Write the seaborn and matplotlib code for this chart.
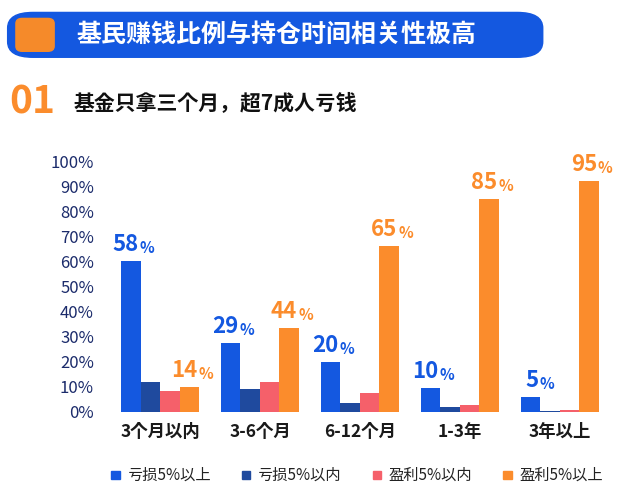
import matplotlib.pyplot as plt
import matplotlib.font_manager as fm
import seaborn as sns
import pandas as pd
from matplotlib.patches import FancyBboxPatch

# make sure a CJK font is registered
cjk_name = None
for f in fm.findSystemFonts():
    if "CJK" in f and ("Bold" in f or cjk_name is None):
        try:
            fm.fontManager.addfont(f)
            cjk_name = fm.FontProperties(fname=f).get_name()
        except Exception:
            pass
plt.rcParams["font.family"] = [cjk_name or "Noto Sans CJK SC", "DejaVu Sans"]

groups = ["3个月以内", "3-6个月", "6-12个月", "1-3年", "3年以上"]
series = ["亏损5%以上", "亏损5%以内", "盈利5%以内", "盈利5%以上"]
loss_big = [60.5, 27.5, 20.0, 9.5, 6.0]
loss_small = [12.0, 9.2, 3.6, 2.0, 0.5]
gain_small = [8.5, 12.0, 7.6, 2.8, 0.8]
gain_big = [9.8, 33.5, 66.5, 85.0, 92.5]
label_loss = [58, 29, 20, 10, 5]
label_gain = [14, 44, 65, 85, 95]
colors = ["#1458e0", "#1f4a9e", "#f5606a", "#fb8c2c"]

df = pd.DataFrame({
    "group": groups * 4,
    "series": sum([[s] * 5 for s in series], []),
    "value": loss_big + loss_small + gain_small + gain_big,
})

fig = plt.figure(figsize=(6.37, 4.98), dpi=100)
ax = fig.add_axes([0.165, 0.173, 0.80, 0.502])
sns.barplot(data=df, x="group", y="value", hue="series", palette=colors, saturation=1,
            order=groups, hue_order=series, width=0.78, ax=ax, legend=False)
ax.set_ylim(0, 100)
ax.set_xlim(-0.55, 4.55)
ax.set_yticks(range(0, 101, 10))
ax.set_yticklabels([f"{v}%" for v in range(0, 101, 10)], fontsize=12,
                   style="italic", color="#1b2b6b")
ax.set_xticks(range(5))
ax.set_xticklabels(groups, fontsize=12.5, fontweight="bold", style="italic", color="#1a1a1a")
ax.tick_params(length=0, pad=8)
ax.set_xlabel("")
ax.set_ylabel("")
for s in ax.spines.values():
    s.set_visible(False)

bw = 0.78 / 4
for i in range(5):
    for off, top, lab, c in [(-1.5 * bw, loss_big[i], label_loss[i], colors[0]),
                             (1.5 * bw, gain_big[i], label_gain[i], colors[3])]:
        x = i + off
        ax.text(x + 0.08, top + 2, str(lab), ha="right", va="bottom", fontsize=16,
                fontweight="bold", style="italic", color=c, clip_on=False)
        ax.text(x + 0.09, top + 2, "%", ha="left", va="bottom", fontsize=11,
                fontweight="bold", style="italic", color=c, clip_on=False)

# legend
for k, (s, c) in enumerate(zip(series, colors)):
    x0 = 0.175 + k * 0.205
    fig.patches.append(plt.Rectangle((x0, 0.038), 0.013, 0.017, color=c,
                                     transform=fig.transFigure))
    fig.text(x0 + 0.025, 0.046, s, fontsize=11, va="center", color="#222222")

# header banner
fig.patches.append(FancyBboxPatch((0.012, 0.885), 0.84, 0.09, boxstyle="round,pad=0,rounding_size=0.04",
                                  color="#1458e0", transform=fig.transFigure, mutation_aspect=0.78))
fig.patches.append(FancyBboxPatch((0.025, 0.897), 0.06, 0.066, boxstyle="round,pad=0,rounding_size=0.01",
                                  color="#f58a2a", transform=fig.transFigure))
fig.text(0.12, 0.93, "基民赚钱比例与持仓时间相关性极高", fontsize=18, fontweight="bold",
         color="white", va="center")
fig.text(0.015, 0.795, "01", fontsize=28, fontweight="bold", style="italic",
         color="#fb8c2c", va="center")
fig.text(0.115, 0.795, "基金只拿三个月，超7成人亏钱", fontsize=15, fontweight="bold",
         color="#111111", va="center")

fig.savefig("out.png", dpi=100)
